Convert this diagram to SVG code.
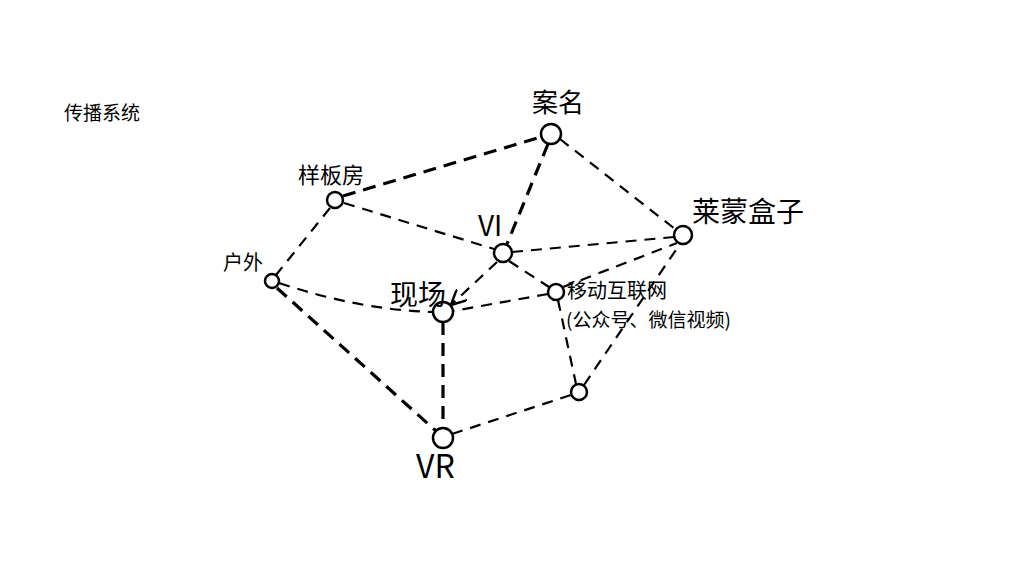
<svg xmlns="http://www.w3.org/2000/svg" width="1024" height="576" viewBox="0 0 1024 576">
<defs>
<style>
.n{fill:#fff;stroke:#000;stroke-width:2.5}
.e{fill:none;stroke:#000;stroke-width:2.2;stroke-dasharray:11 8}
.t{fill:none;stroke:#000;stroke-width:3.2;stroke-dasharray:13 8}
.l{font-family:"Noto Sans CJK SC","Liberation Sans",sans-serif;fill:#000}
</style>
<marker id="ah" viewBox="0 0 10 10" refX="9" refY="5" markerWidth="7" markerHeight="7" orient="auto">
<path d="M0,0 L10,5 L0,10" fill="none" stroke="#000" stroke-width="1.6"/>
</marker>
</defs>
<rect width="1024" height="576" fill="#fff"/>
<text class="l" x="64" y="120" font-size="19">传播系统</text>
<g id="connectors">
<path class="t" d="M343,196 L541,137"/>
<path class="t" d="M548,144 L507,244"/>
<path class="e" d="M560,139 L675,229"/>
<path class="e" d="M330,208 L276,275"/>
<path class="e" d="M344,203 L494,249"/>
<path class="e" d="M512,252 L674,237"/>
<path class="e" d="M509,261 L549,287"/>
<path class="e" d="M497,262 L452,304" marker-end="url(#ah)"/>
<path class="e" d="M548,294 L453,311"/>
<path class="e" d="M563,287 L677,243"/>
<path class="e" d="M279,283 Q360,310 433,312"/>
<path class="t" d="M277,288 L436,431"/>
<path class="t" d="M443,322 L443,428"/>
<path class="e" d="M452,434 L571,395"/>
<path class="e" d="M558,300 L576,384"/>
<path class="e" d="M584,385 L680,244"/>
</g>
<g id="n-anming"><circle class="n" cx="551" cy="134" r="10"/><text class="l" x="532" y="112" font-size="26">案名</text></g>
<g id="n-yangbanfang"><circle class="n" cx="335" cy="200" r="8"/><text class="l" x="298" y="183" font-size="22">样板房</text></g>
<g id="n-huwai"><circle class="n" cx="272" cy="281" r="7"/><text class="l" x="223" y="270" font-size="20">户外</text></g>
<g id="n-vi"><circle class="n" cx="503" cy="253" r="9"/><text class="l" x="478" y="236" font-size="28">VI</text></g>
<g id="n-laimeng"><circle class="n" cx="683" cy="235" r="9"/><text class="l" x="692" y="222" font-size="28">莱蒙盒子</text></g>
<g id="n-xianchang"><circle class="n" cx="443" cy="312" r="10"/><text class="l" x="390" y="305" font-size="28">现场</text></g>
<g id="n-yidong"><circle class="n" cx="556" cy="292" r="8"/><text class="l" x="567" y="298" font-size="20">移动互联网</text><text class="l" x="566" y="327" font-size="19">(公众号、微信视频)</text></g>
<g id="n-blank"><circle class="n" cx="579" cy="392" r="8"/></g>
<g id="n-vr"><circle class="n" cx="443" cy="438" r="10"/><text class="l" x="416" y="478" font-size="32">VR</text></g>
</svg>
